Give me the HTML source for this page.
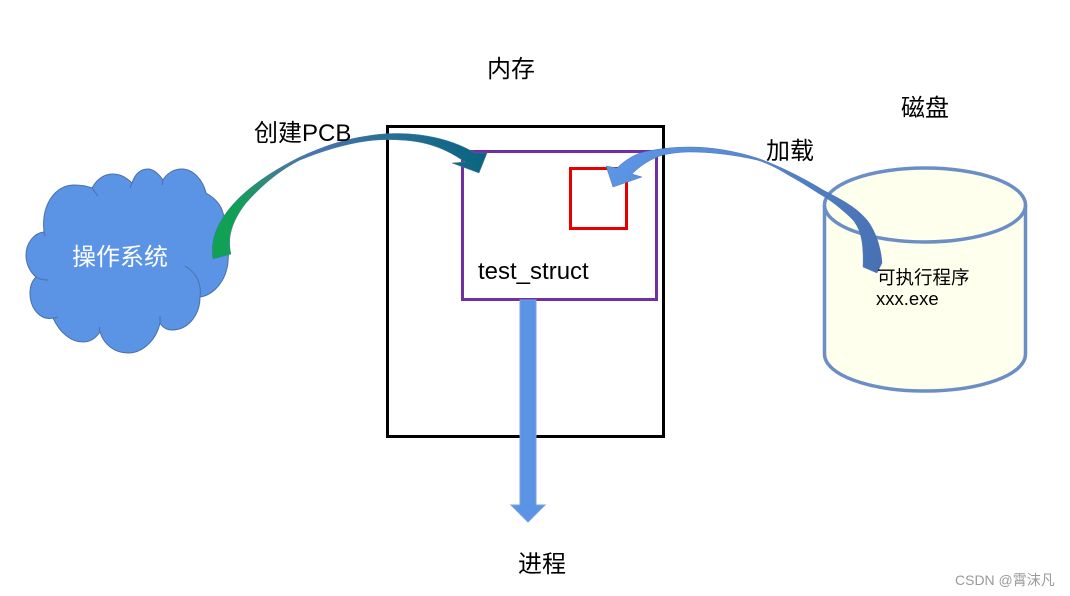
<!DOCTYPE html>
<html>
<head>
<meta charset="utf-8">
<style>
html,body{margin:0;padding:0;background:#fff;width:1070px;height:596px;overflow:hidden}
svg{display:block}
text{font-family:"Liberation Sans","Noto Sans CJK SC",sans-serif;fill:#000}
</style>
</head>
<body>
<svg width="1070" height="596" viewBox="0 0 1070 596" xmlns="http://www.w3.org/2000/svg">
<defs>
<linearGradient id="g1" gradientUnits="userSpaceOnUse" x1="212" y1="250" x2="485" y2="160">
<stop offset="0" stop-color="#0fa253"/>
<stop offset="0.13" stop-color="#10a055"/>
<stop offset="0.3" stop-color="#3b8288"/>
<stop offset="0.45" stop-color="#4a74b0"/>
<stop offset="0.68" stop-color="#2a7096"/>
<stop offset="1" stop-color="#0a6480"/>
</linearGradient>
<linearGradient id="g2" gradientUnits="userSpaceOnUse" x1="610" y1="170" x2="880" y2="260">
<stop offset="0" stop-color="#5b95e6"/>
<stop offset="0.35" stop-color="#5a8cd4"/>
<stop offset="1" stop-color="#4771b2"/>
</linearGradient>
</defs>

<!-- Memory box -->
<rect x="387.500" y="126.500" width="276" height="310" fill="#fff" stroke="#000" stroke-width="3"/>
<rect x="462.500" y="151.500" width="194" height="148" fill="none" stroke="#7030a0" stroke-width="3"/>
<rect x="570.500" y="168.500" width="56" height="60" fill="none" stroke="#e60000" stroke-width="3"/>

<!-- Down arrow -->
<path d="M520 300H536V505H545L528 522L511 505H520Z" fill="#5b93e5" stroke="#7ba0d8" stroke-width="1"/>

<!-- Cloud -->
<path d="M44 232C41 205 55 185 74 185C81 185 87 186 92 188C97 179 104 174 113 174C120 174 126 177 132 183C135 174 140 169 148 169C153 169 158 173 163 180C167 173 174 169 182 169C193 169 203 180 206 193C215 198 221 205 223 213C229 228 229 248 228 262C226 282 213 295 200 297C200 315 188 330 172 330C167 330 163 328 160 323C156 341 142 353 128 353C115 353 104 345 100 332C95 339 90 342 83 342C71 342 60 333 53 318C41 321 30 309 30 293C30 286 32 281 36 277C30 272 26 264 26 255C26 243 34 233 44 232Z" fill="#5b93e5" stroke="#4a70a8" stroke-width="1"/>
<path d="M44 232L45 236M36 277C39 279 43 280 48 280M53 318C55 318 57 317 58 317M100 332C99 329 99 328 100 327M160 323L160 316M200 297C202 282 195 272 185 266M206 193L205 190M163 180L162 185M132 183L130 188M92 188L98 196" fill="none" stroke="#4a70a8" stroke-width="1"/>
<text x="72" y="265" font-size="24" style="fill:#fff">操作系统</text>

<!-- Create PCB arrow -->
<path d="M213 259C209 235 222 215 240 197C258 180 280 167 300 157C320 148 340 140 367 136C395 131 440 132 475 153L487 153L479 173L452 163L465 162C445 148 425 141 400 140C385 139 375 140 367 141C345 144 322 151 300 160C280 170 262 185 246 203C235 217 226 235 231 254Z" fill="url(#g1)" stroke="#4a74a8" stroke-width="0.5"/>

<!-- Cylinder -->
<path d="M824.500 205V354C824.500 375 870 391 925 391C980 391 1025.500 375 1025.500 354V205" fill="#ffffee" stroke="#6b8fc4" stroke-width="3.500"/>
<ellipse cx="925" cy="205" rx="100.500" ry="37" fill="#ffffee" stroke="#6b8fc4" stroke-width="3.500"/>

<!-- Load arrow -->
<path d="M882 263C881 247 875 230 867 220C855 206 840 199 823 190C805 179 780 166 757 158C735 151 712 147 690 147C672 147 655 149 640 153C630 157 623 162 617 168L606 166L613 187L642 177L632 174C640 166 650 159 663 155C672 153 682 152 690 152C712 152 735 155 757 160C770 164 780 170 790 176C803 183 813 190 823 196C830 200 842 209 853 220C860 229 864 240 863 267L877 273Z" fill="url(#g2)" stroke="#4d76b4" stroke-width="0.5"/>

<!-- Labels -->
<text x="487" y="77" font-size="24">内存</text>
<text x="901" y="116" font-size="24">磁盘</text>
<text x="254" y="141" font-size="24">创建PCB</text>
<text x="766" y="159" font-size="24">加载</text>
<text x="478" y="279" font-size="24">test_struct</text>
<text x="877" y="284" font-size="18.500">可执行程序</text>
<text x="876" y="305" font-size="18.500">xxx.exe</text>
<text x="518" y="572" font-size="24">进程</text>
<text x="955" y="585" font-size="14" style="fill:#9a9a9a">CSDN @霄沫凡</text>
</svg>
</body>
</html>
